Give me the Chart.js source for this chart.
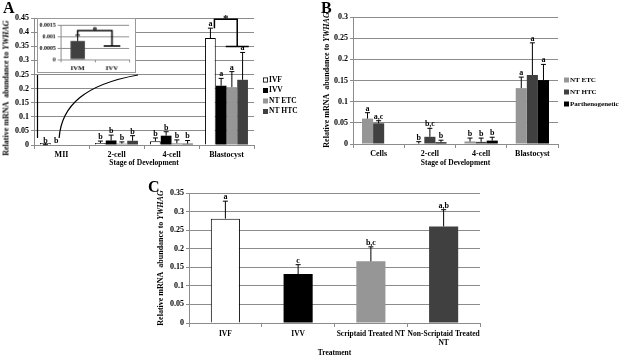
<!DOCTYPE html>
<html>
<head>
<meta charset="utf-8">
<script src="https://cdn.jsdelivr.net/npm/chart.js@4.4.0/dist/chart.umd.min.js"></script>
<style>
  body { margin: 0; background: #fff; width: 623px; height: 358px; position: relative; overflow: hidden; font-family: "Liberation Serif", serif; }
  canvas { position: absolute; }
  .panel { position: absolute; font-weight: bold; font-size: 16px; line-height: 16px; }
  .ytitle { position: absolute; font-weight: bold; font-size: 8px; white-space: nowrap; transform: translate(-50%, -50%) rotate(-90deg); }
  #inset { background: #fff; border: 1px solid #999; }
</style>
</head>
<body>
<canvas id="chartA" width="300" height="175" style="left:0;top:0"></canvas>
<canvas id="inset" width="99" height="55" style="left:37px;top:18px"></canvas>
<canvas id="chartB" width="303" height="175" style="left:320px;top:0"></canvas>
<canvas id="chartC" width="370" height="180" style="left:130px;top:178px"></canvas>

<div class="panel" style="left:3px;top:0">A</div>
<div class="panel" style="left:321px;top:0">B</div>
<div class="panel" style="left:148px;top:179px">C</div>
<div class="ytitle" style="left:6px;top:88px">Relative mRNA&nbsp; abundance to <i>YWHAG</i></div>
<div class="ytitle" style="left:326px;top:80px">Relative mRNA&nbsp; abundance to <i>YWHAG</i></div>
<div class="ytitle" style="left:160px;top:258px">Relative mRNA&nbsp; abundance to <i>YWHAG</i></div>

<script>
const SERIF = '"Liberation Serif", "Times New Roman", serif';
const GRID = '#8c8c8c';
const WHITE = '#ffffff', BLACK = '#000000', LIGHT = '#969696', DARK = '#404040';

// ---- panel A
const stagesA = ['MII', '2-cell', '4-cell', 'Blastocyst'];
const ivfA = [0.0008, 0.007, 0.013, 0.379];
const ivvA = [0, 0.016, 0.033, 0.21];
const ntEtcA = [null, 0.005, 0.006, 0.205];
const ntHtcA = [null, 0.015, 0.005, 0.231];
const ivfErrA = [0.00025, 0.007, 0.012, 0.035];
const ivvErrA = [0, 0.019, 0.014, 0.026];
const ntEtcErrA = [null, 0.006, 0.012, 0.055];
const ntHtcErrA = [null, 0.018, 0.011, 0.097];
const ivfLetA = ['b', 'b', 'b', 'a'];
const ivvLetA = ['b', 'b', 'b', 'a'];
const ntEtcLetA = [null, 'b', 'b', 'a'];
const ntHtcLetA = [null, 'b', 'b', 'a'];
const yMaxA = 0.45, yStepA = 0.05;

// inset of panel A (MII oocytes)
const insetCats = ['IVM', 'IVV'];
const insetVals = [0.0008, 0];
const insetErr = [0.00025, 0];
const yMaxIn = 0.0015, yStepIn = 0.0005;

// ---- panel B
const stagesB = ['Cells', '2-cell', '4-cell', 'Blastocyst'];
const ntEtcB = [0.060, 0.001, 0.006, 0.132];
const ntHtcB = [0.049, 0.017, 0.005, 0.163];
const partB = [null, 0.004, 0.008, 0.151];
const ntEtcErrB = [0.014, 0.0045, 0.008, 0.026];
const ntHtcErrB = [0.006, 0.020, 0.009, 0.076];
const partErrB = [null, 0.005, 0.008, 0.037];
const ntEtcLetB = ['a', 'b', 'b', 'a'];
const ntHtcLetB = ['a,c', 'b,c', 'b', 'a'];
const partLetB = [null, 'b', 'b', 'a'];
const yMaxB = 0.3, yStepB = 0.05;

// ---- panel C
const treatC = ['IVF', 'IVV', 'Scriptaid Treated NT', ['Non-Scriptaid Treated', 'NT']];
const valsC = [0.281, 0.132, 0.166, 0.26];
const errC = [0.047, 0.025, 0.039, 0.045];
const letC = ['a', 'c', 'b,c', 'a,b'];
const yMaxC = 0.35, yStepC = 0.05;

function font(size, style) { return { family: SERIF, weight: 'bold', size: size, style: style || 'normal' }; }

function yAxis(max, step, width, size) {
  return {
    min: 0, max: max,
    ticks: { stepSize: step, color: '#000', font: font(size), padding: 2,
      callback: v => String(+v.toFixed(4)) },
    grid: { color: GRID, tickLength: 3 },
    border: { color: GRID },
    afterFit: s => { s.width = width; }
  };
}

function xAxis(height, size, title, titleSize, titleBottom, pad) {
  return {
    ticks: { color: '#000', font: font(size), padding: pad, maxRotation: 0, autoSkip: false },
    grid: { offset: true, drawOnChartArea: false, color: GRID, tickLength: 4 },
    border: { color: GRID },
    title: { display: !!title, text: title, color: '#000', font: font(titleSize),
      padding: { top: 0, bottom: titleBottom } },
    afterFit: s => { s.height = height; }
  };
}

// error bars and significance letters
const errorBars = {
  id: 'errorBars',
  afterDatasetsDraw(chart, args, o) {
    const ctx = chart.ctx, y = chart.scales.y;
    ctx.save();
    chart.data.datasets.forEach((ds, di) => {
      chart.getDatasetMeta(di).data.forEach((bar, i) => {
        const v = ds.data[i];
        if (v == null) return;
        const err = ds.errors ? (ds.errors[i] || 0) : 0;
        const top = y.getPixelForValue(v + err);
        if (err) {
          ctx.strokeStyle = '#000';
          ctx.lineWidth = 1;
          ctx.beginPath();
          ctx.moveTo(bar.x, bar.y);
          ctx.lineTo(bar.x, top);
          ctx.moveTo(bar.x - o.cap, top);
          ctx.lineTo(bar.x + o.cap, top);
          ctx.stroke();
        }
        if (ds.letters && ds.letters[i]) {
          ctx.fillStyle = '#000';
          ctx.font = 'bold ' + o.size + 'px ' + SERIF;
          ctx.textAlign = 'center';
          ctx.textBaseline = 'alphabetic';
          ctx.fillText(ds.letters[i], bar.x, top - 2);
        }
      });
    });
    ctx.restore();
  }
};

// legend on the right side
const sideLegend = {
  id: 'sideLegend',
  afterDraw(chart, args, o) {
    if (o.x == null) return;
    const ctx = chart.ctx;
    ctx.save();
    ctx.font = 'bold ' + o.size + 'px ' + SERIF;
    ctx.textBaseline = 'middle';
    ctx.textAlign = 'left';
    chart.data.datasets.forEach((ds, i) => {
      const yy = o.y + i * o.step;
      ctx.fillStyle = ds.backgroundColor;
      ctx.fillRect(o.x, yy - 2.5, 5, 5);
      if (ds.borderWidth) {
        ctx.strokeStyle = '#000';
        ctx.lineWidth = 0.8;
        ctx.strokeRect(o.x + 0.4, yy - 2.1, 4.2, 4.2);
      }
      ctx.fillStyle = '#000';
      ctx.fillText(ds.label, o.x + 6, yy);
    });
    ctx.restore();
  }
};

// significance bracket with a star
const bracket = {
  id: 'bracket',
  afterDatasetsDraw(chart, args, o) {
    if (!o.fromX) return;
    const ctx = chart.ctx, y = chart.scales.y;
    const x0 = o.fromX(chart), x1 = o.toX(chart);
    const y0 = y.getPixelForValue(o.start), yt = y.getPixelForValue(o.top), yb = y.getPixelForValue(o.end);
    ctx.save();
    ctx.strokeStyle = '#000';
    ctx.lineWidth = o.width;
    ctx.beginPath();
    ctx.moveTo(x0, y0);
    ctx.lineTo(x0, yt);
    ctx.lineTo(x1, yt);
    ctx.lineTo(x1, yb);
    ctx.moveTo(x1 - o.cap, yb);
    ctx.lineTo(x1 + o.cap, yb);
    ctx.stroke();
    ctx.font = 'bold ' + o.star + 'px ' + SERIF;
    ctx.fillStyle = '#000';
    ctx.textAlign = 'center';
    ctx.textBaseline = 'alphabetic';
    ctx.fillText('*', (x0 + x1) / 2, yt + o.starDy);
    ctx.restore();
  }
};

// lines linking the inset to the MII group
const INSET = { left: 37, top: 18, width: 101, height: 57 };
const zoomLines = {
  id: 'zoomLines',
  afterDatasetsDraw(chart, args, o) {
    if (!o.box) return;
    const ctx = chart.ctx, y = chart.scales.y;
    const b1 = chart.getDatasetMeta(1).data[0];
    const yEnd = y.getPixelForValue(o.endValue);
    const L = o.box.left, R = o.box.left + o.box.width, B = o.box.top + o.box.height;
    const x1 = b1.x + 3;
    ctx.save();
    ctx.strokeStyle = '#000';
    ctx.lineWidth = 1.2;
    ctx.beginPath();
    ctx.moveTo(L + 0.5, B);
    ctx.lineTo(L + 0.5, yEnd);
    ctx.moveTo(x1, yEnd);
    ctx.bezierCurveTo(x1 + (R - x1) * 0.03, yEnd - (yEnd - B) * 0.52,
                      x1 + (R - x1) * 0.33, yEnd - (yEnd - B) * 0.85, R, B);
    ctx.stroke();
    ctx.restore();
  }
};

Chart.register(errorBars, sideLegend, bracket, zoomLines);

function base(padding) {
  return {
    responsive: false, animation: false, devicePixelRatio: 1,
    layout: { padding: padding },
    plugins: { legend: { display: false }, tooltip: { enabled: false } }
  };
}

// ---- chart A
const optA = base({ left: 0, top: 18, right: 46, bottom: 0 });
optA.datasets = { bar: { categoryPercentage: 0.78, barPercentage: 1 } };
optA.scales = { x: xAxis(30, 8, 'Stage of Development', 7.5, 7, 1), y: yAxis(yMaxA, yStepA, 34, 8) };
optA.plugins.errorBars = { cap: 2.5, size: 8 };
optA.plugins.sideLegend = { x: 263, y: 80, step: 10.5, size: 7.5 };
optA.plugins.bracket = {
  fromX: c => c.getDatasetMeta(0).data[3].x + 4,
  toX: c => (c.getDatasetMeta(2).data[3].x + c.getDatasetMeta(3).data[3].x) / 2,
  start: ivfA[3] + ivfErrA[3], top: 0.446, end: 0.349, cap: 11.5, width: 1.5, star: 11, starDy: 3
};
optA.plugins.zoomLines = { box: INSET, endValue: 0.025 };

new Chart(document.getElementById('chartA'), {
  type: 'bar',
  data: {
    labels: stagesA,
    datasets: [
      { label: 'IVF', data: ivfA, errors: ivfErrA, letters: ivfLetA, backgroundColor: WHITE, borderColor: BLACK, borderWidth: 1, minBarLength: 2 },
      { label: 'IVV', data: ivvA, errors: ivvErrA, letters: ivvLetA, backgroundColor: BLACK },
      { label: 'NT ETC', data: ntEtcA, errors: ntEtcErrA, letters: ntEtcLetA, backgroundColor: LIGHT },
      { label: 'NT HTC', data: ntHtcA, errors: ntHtcErrA, letters: ntHtcLetA, backgroundColor: DARK }
    ]
  },
  options: optA
});

// ---- inset
const optIn = base({ left: 0, top: 6, right: 6, bottom: 0 });
optIn.datasets = { bar: { categoryPercentage: 0.42, barPercentage: 1 } };
optIn.scales = { x: xAxis(13, 7, '', 7, 0, 2), y: yAxis(yMaxIn, yStepIn, 23, 6) };
optIn.scales.x.grid.tickLength = 3;
optIn.plugins.errorBars = { cap: 2.5, size: 7 };
optIn.plugins.bracket = {
  fromX: c => c.getDatasetMeta(0).data[0].x,
  toX: c => c.getDatasetMeta(0).data[1].x,
  start: insetVals[0] + insetErr[0], top: 0.00125, end: 0.00058, cap: 8.5, width: 1.5, star: 10, starDy: 3
};

new Chart(document.getElementById('inset'), {
  type: 'bar',
  data: {
    labels: insetCats,
    datasets: [{ label: 'MII', data: insetVals, errors: insetErr, backgroundColor: DARK }]
  },
  options: optIn
});

// ---- chart B
const optB = base({ left: 0, top: 17, right: 65, bottom: 0 });
optB.datasets = { bar: { categoryPercentage: 0.65, barPercentage: 1 } };
optB.scales = { x: xAxis(31, 8, 'Stage of Development', 7.5, 7, 1), y: yAxis(yMaxB, yStepB, 33, 8) };
optB.plugins.errorBars = { cap: 2.5, size: 8 };
optB.plugins.sideLegend = { x: 244, y: 80, step: 12, size: 7 };

new Chart(document.getElementById('chartB'), {
  type: 'bar',
  data: {
    labels: stagesB,
    datasets: [
      { label: 'NT ETC', data: ntEtcB, errors: ntEtcErrB, letters: ntEtcLetB, backgroundColor: LIGHT },
      { label: 'NT HTC', data: ntHtcB, errors: ntHtcErrB, letters: ntHtcLetB, backgroundColor: DARK },
      { label: 'Parthenogenetic', data: partB, errors: partErrB, letters: partLetB, backgroundColor: BLACK }
    ]
  },
  options: optB
});

// ---- chart C
const optC = base({ left: 30, top: 15, right: 20, bottom: 0 });
optC.datasets = { bar: { categoryPercentage: 0.4, barPercentage: 1 } };
optC.scales = { x: xAxis(35, 7.5, 'Treatment', 7.5, 0, 3), y: yAxis(yMaxC, yStepC, 29, 8) };
optC.plugins.errorBars = { cap: 2.5, size: 8 };

new Chart(document.getElementById('chartC'), {
  type: 'bar',
  data: {
    labels: treatC,
    datasets: [{
      label: 'Treatment', data: valsC, errors: errC, letters: letC,
      backgroundColor: [WHITE, BLACK, LIGHT, DARK],
      borderColor: BLACK, borderWidth: [1, 0, 0, 0]
    }]
  },
  options: optC
});
</script>
</body>
</html>
